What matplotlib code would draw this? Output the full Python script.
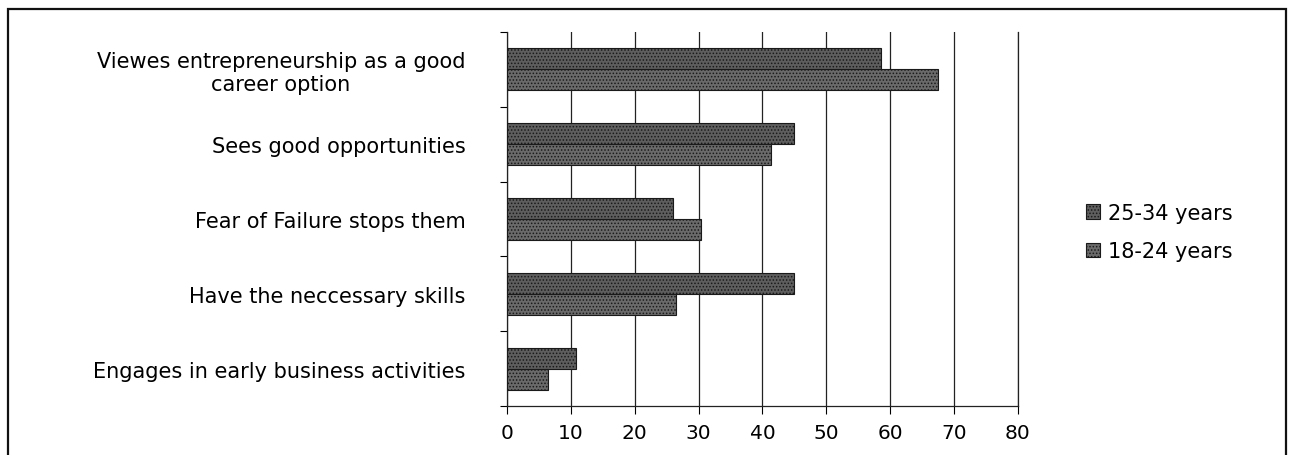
import numpy as np
import matplotlib
matplotlib.use("Agg")
import matplotlib.pyplot as plt
from matplotlib.patches import Rectangle

plt.rcParams['font.family'] = ['DejaVu Sans']

categories = ["Viewes entrepreneurship as a good\ncareer option",
              "Sees good opportunities",
              "Fear of Failure stops them",
              "Have the neccessary skills",
              "Engages in early business activities"]
age_25_34 = [58.5, 45, 26, 45, 10.8]
age_18_24 = [67.5, 41.4, 30.4, 26.4, 6.4]
xticks = [0, 10, 20, 30, 40, 50, 60, 70, 80]

fig = plt.figure(figsize=(12.9, 4.56), dpi=100)
ax = fig.add_axes([0.393, 0.107, 0.396, 0.821])

y = np.arange(len(categories))
h = 0.28
plt.rcParams['hatch.color'] = '#262626'
plt.rcParams['hatch.linewidth'] = 0.7
b1 = ax.barh(y - h/2, age_25_34, height=h, color='#5e5e5e', edgecolor='#1a1a1a',
             hatch='.....', linewidth=0.8, label='25-34 years', zorder=3)
b2 = ax.barh(y + h/2, age_18_24, height=h, color='#6a6a6a', edgecolor='#1a1a1a',
             hatch='.....', linewidth=0.8, label='18-24 years', zorder=3)

ax.set_xlim(0, 80)
ax.set_ylim(len(categories) - 0.5, -0.5)
ax.set_xticks(xticks)
ax.set_yticks(y)
ax.set_yticklabels(categories, fontsize=15, ha='right', multialignment='center')
ax.set_yticks(np.arange(len(categories) + 1) - 0.5, minor=True)
ax.tick_params(axis='y', which='major', length=0, pad=30)
ax.tick_params(axis='y', which='minor', length=5, width=0.8, direction='out')
ax.tick_params(axis='x', length=6, width=0.8, direction='out', labelsize=14.5, pad=6)
ax.grid(axis='x', color='#222222', linewidth=0.9, zorder=0)
ax.axvline(xticks[-1], color='#222222', linewidth=0.9, zorder=0, clip_on=False)
for s in ['top', 'right']:
    ax.spines[s].set_visible(False)
for s in ['left', 'bottom']:
    ax.spines[s].set_color('#222222')
    ax.spines[s].set_linewidth(0.9)

leg = fig.legend(handles=[b1, b2], loc='center left', bbox_to_anchor=(0.827, 0.489),
                 frameon=False, fontsize=15, handlelength=0.7, handleheight=0.7,
                 handletextpad=0.4, labelspacing=0.9)

fig.patches.append(Rectangle((0.006, -0.01), 0.991, 0.988, transform=fig.transFigure,
                             fill=False, edgecolor='#111111', linewidth=1.6))

fig.savefig("out.png", dpi=100)
